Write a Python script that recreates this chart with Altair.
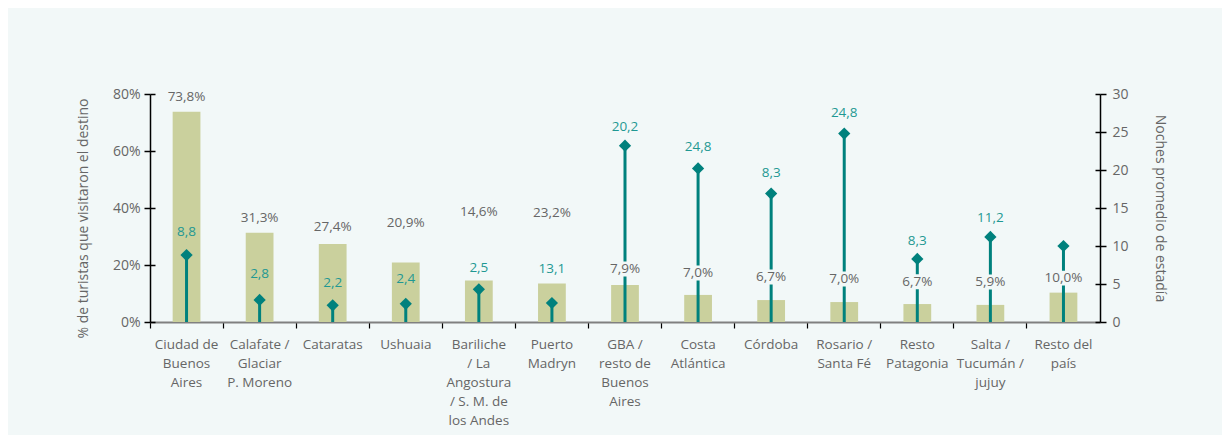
import altair as alt
import pandas as pd

categories = [
    "Ciudad de|Buenos|Aires",
    "Calafate /|Glaciar|P. Moreno",
    "Cataratas",
    "Ushuaia",
    "Bariliche|/ La|Angostura|/ S. M. de|los Andes",
    "Puerto|Madryn",
    "GBA /|resto de|Buenos|Aires",
    "Costa|Atlántica",
    "Córdoba",
    "Rosario /|Santa Fé",
    "Resto|Patagonia",
    "Salta /|Tucumán /|jujuy",
    "Resto del|país",
]
pct_visited = [73.8, 31.3, 27.4, 20.9, 14.6, 13.5, 13.0, 9.5, 7.7, 7.0, 6.3, 6.0, 10.3]
pct_text = ["73,8%", "31,3%", "27,4%", "20,9%", "14,6%", "23,2%", "7,9%", "7,0%",
            "6,7%", "7,0%", "6,7%", "5,9%", "10,0%"]
pct_text_at = [78.8, 36.5, 33.3, 34.7, 38.6, 38.2, 18.6, 17.2, 15.8, 15.1, 14.1, 14.0, 15.4]

nights = [8.8, 2.9, 2.2, 2.4, 4.3, 2.5, 23.2, 20.2, 16.9, 24.8, 8.3, 11.2, 10.0]
nights_text = ["8,8", "2,8", "2,2", "2,4", "2,5", "13,1", "20,2", "24,8", "8,3",
               "24,8", "8,3", "11,2", ""]
nights_text_at = [11.9, 6.3, 5.1, 5.7, 7.1, 7.0, 25.6, 23.0, 19.6, 27.5, 10.7, 13.7, 0]

pct_ticks = [0, 20, 40, 60, 80]
night_ticks = [0, 5, 10, 15, 20, 25, 30]

df = pd.DataFrame({
    "cat": categories,
    "pct": pct_visited,
    "pct_text": pct_text,
    "pct_text_at": pct_text_at,
    "nights": nights,
    "nights_text": nights_text,
    "nights_text_at": nights_text_at,
})

FONT = "Open Sans"
GRAY = "#666666"
TEAL = "#00817d"
TEAL_TXT = "#1f9893"
BAR = "#cad09d"
BG = "#f2f8f8"

x_axis = alt.Axis(
    title=None,
    labelAngle=0,
    labelExpr="split(datum.label, '|')",
    labelFont=FONT,
    labelFontSize=13.5,
    labelColor=GRAY,
    labelLineHeight=19,
    labelPadding=9,
    labelBaseline="top",
    bandPosition=0,
    tickColor="#000000",
    tickSize=6,
    tickWidth=1.2,
    domainColor="#808080",
    domainWidth=2,
    labelLimit=200,
)
x = alt.X("cat:N", sort=categories,
          scale=alt.Scale(paddingInner=0, paddingOuter=0), axis=x_axis)
x_plain = alt.X("cat:N", sort=categories,
                scale=alt.Scale(paddingInner=0, paddingOuter=0))


def pct_scale():
    return alt.Scale(domain=[0, 80], nice=False)


def n_scale():
    return alt.Scale(domain=[0, 30], nice=False)


left_axis = alt.Axis(
    title="% de turistas que visitaron el destino",
    orient="left",
    values=pct_ticks,
    labelExpr="datum.value + '%'",
    labelFont=FONT,
    labelFontSize=14,
    labelColor=GRAY,
    labelPadding=4,
    titleFont=FONT,
    titleFontSize=14,
    titleFontWeight="normal",
    titleColor=GRAY,
    titlePadding=22,
    titleY=124,
    domainColor="#000000",
    domainWidth=1.5,
    tickColor="#000000",
    tickSize=6,
    tickWidth=1.5,
    grid=False,
)

left_inner = alt.Axis(
    orient="left", offset=-5, values=pct_ticks, title=None, labels=False,
    domain=False, tickColor="#000000", tickSize=5, tickWidth=1.5, grid=False,
)

right_axis = alt.Axis(
    title="Noches promedio de estadía",
    orient="right",
    values=night_ticks,
    labelFont=FONT,
    labelFontSize=14,
    labelColor=GRAY,
    labelPadding=6,
    titleFont=FONT,
    titleFontSize=14,
    titleFontWeight="normal",
    titleColor=GRAY,
    titlePadding=24,
    domainColor="#000000",
    domainWidth=1.5,
    tickColor="#000000",
    tickSize=6,
    tickWidth=1.5,
    grid=False,
)

right_inner = alt.Axis(
    orient="right", offset=-5, values=night_ticks, title=None, labels=False,
    domain=False, tickColor="#000000", tickSize=5, tickWidth=1.5, grid=False,
)

base = alt.Chart(df)

bars = base.mark_bar(color=BAR, width=alt.RelativeBandSize(0.38)).encode(
    x=x,
    y=alt.Y("pct:Q", scale=pct_scale(), axis=left_axis),
)

stems = base.mark_rule(color=TEAL, strokeWidth=3).encode(
    x=x_plain,
    y=alt.Y("nights:Q", scale=n_scale(), axis=right_axis),
    y2=alt.datum(0),
)

dots = base.mark_point(
    shape="diamond", size=150, filled=True, color=TEAL, opacity=1
).encode(
    x=x_plain,
    y=alt.Y("nights:Q", scale=n_scale(), axis=right_inner),
)

# background patch behind the percentage labels (hides the stem there)
label_bg = base.mark_point(
    shape="M-1,-0.4L1,-0.4L1,0.4L-1,0.4Z", size=1400, filled=True,
    color=BG, opacity=1, strokeWidth=0,
).encode(
    x=x_plain,
    y=alt.Y("pct_text_at:Q", scale=pct_scale(), axis=left_inner),
)

bar_labels = base.mark_text(
    font=FONT, fontSize=13.5, color=GRAY, baseline="middle", align="center"
).encode(
    x=x_plain,
    y=alt.Y("pct_text_at:Q", scale=pct_scale(), axis=None),
    text="pct_text:N",
)

dot_labels = base.mark_text(
    font=FONT, fontSize=13.5, color=TEAL_TXT, baseline="middle", align="center"
).encode(
    x=x_plain,
    y=alt.Y("nights_text_at:Q", scale=n_scale(), axis=None),
    text="nights_text:N",
)

chart = (
    alt.layer(bars, stems, dots, label_bg, bar_labels, dot_labels)
    .resolve_scale(y="independent")
    .properties(
        width=950,
        height=228,
        background=BG,
        padding={"left": 142, "top": 86, "right": 122, "bottom": 113},
        autosize=alt.AutoSizeParams(type="none"),
    )
    .configure_view(stroke=None)
)

chart.save("out.html", embed_options={"renderer": "svg", "actions": False})
